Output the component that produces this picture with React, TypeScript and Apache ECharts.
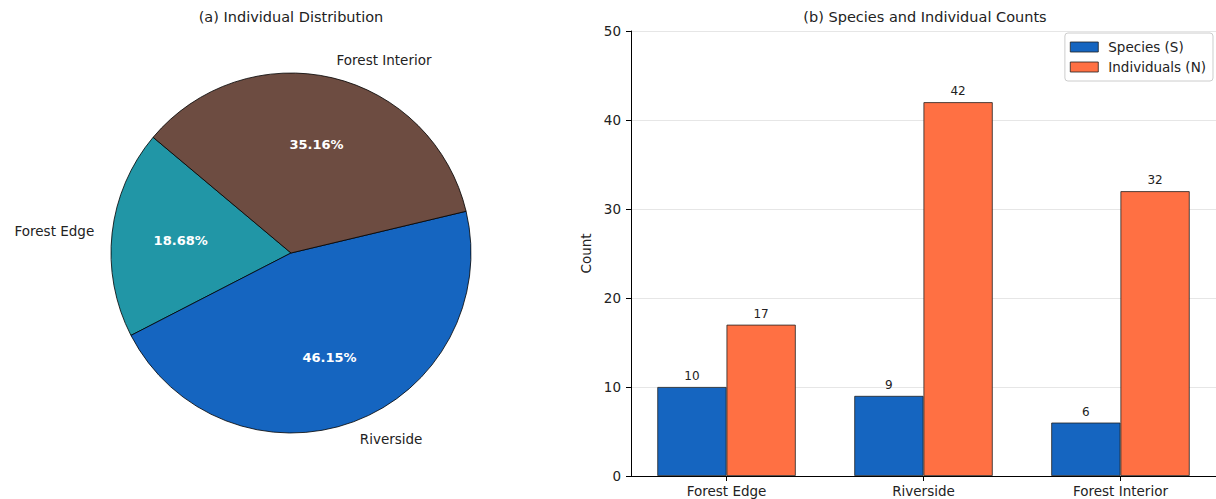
import React, { useEffect, useRef } from "react";
import * as echarts from "echarts";

// Habitat data
const categories = ["Forest Edge", "Riverside", "Forest Interior"];
const speciesCounts = [10, 9, 6];
const individualCounts = [17, 42, 32];
const pieColors = ["#2196A6", "#1565C0", "#6D4C41"];
const seriesNames = ["Species (S)", "Individuals (N)"];
const seriesColors = ["#1565C0", "#FF7043"];
const yTicks = { min: 0, max: 50, interval: 10 };

const FONT = "DejaVu Sans, Verdana, sans-serif";

export default function App() {
  const ref = useRef<HTMLDivElement>(null);

  useEffect(() => {
    if (!ref.current) return;
    const chart = echarts.init(ref.current, null, { renderer: "svg" });

    const total = individualCounts.reduce((a, b) => a + b, 0);
    const pieData = categories.map((name, i) => ({
      name,
      value: individualCounts[i],
      itemStyle: { color: pieColors[i] },
    }));

    const pieCenter = [291, 253];
    const pieR = 180;

    const option: any = {
      animation: false,
      textStyle: { fontFamily: FONT },
      graphic: [
        {
          type: "text",
          x: 291,
          y: 17,
          style: {
            text: "(a) Individual Distribution",
            font: `14.5px ${FONT}`,
            fill: "#222",
            textAlign: "center",
            textVerticalAlign: "middle",
          },
        },
        {
          type: "text",
          x: 925,
          y: 17,
          style: {
            text: "(b) Species and Individual Counts",
            font: `14.5px ${FONT}`,
            fill: "#222",
            textAlign: "center",
            textVerticalAlign: "middle",
          },
        },
      ],
      legend: {
        data: seriesNames,
        orient: "vertical",
        right: 3,
        top: 33,
        icon: "rect",
        itemWidth: 28,
        itemHeight: 10,
        itemGap: 6,
        padding: [7, 7, 7, 5],
        borderColor: "#ccc",
        borderWidth: 1,
        borderRadius: 3,
        backgroundColor: "rgba(255,255,255,0.8)",
        itemStyle: { borderWidth: 0.8, borderColor: "#222" },
        textStyle: { fontSize: 13.5, color: "#222", fontFamily: FONT, padding: [0, 0, 0, 5] },
      },
      grid: { left: 631, top: 31, width: 587.5, height: 445 },
      xAxis: {
        type: "value",
        min: -0.485,
        max: 2.485,
        splitLine: { show: false },
        axisLine: { show: true, onZero: false, lineStyle: { color: "#000", width: 1 } },
        axisTick: {
          show: true,
          length: 5,
          customValues: categories.map((_, i) => i),
          lineStyle: { color: "#000" },
        },
        axisLabel: {
          customValues: categories.map((_, i) => i),
          formatter: (v: number) => categories[Math.round(v)] ?? "",
          fontSize: 13.5,
          color: "#222",
          margin: 8,
          fontFamily: FONT,
        },
      },
      yAxis: {
        type: "value",
        min: yTicks.min,
        max: yTicks.max,
        interval: yTicks.interval,
        name: "Count",
        nameLocation: "middle",
        nameGap: 38,
        nameTextStyle: { fontSize: 13.5, color: "#222", fontFamily: FONT },
        axisLine: { show: true, onZero: false, lineStyle: { color: "#000", width: 1 } },
        axisTick: { show: true, length: 5, lineStyle: { color: "#000" } },
        axisLabel: { fontSize: 13.5, color: "#222", margin: 10, fontFamily: FONT },
        splitLine: { show: true, lineStyle: { color: "#e6e6e6", width: 1 } },
      },
      series: [
        {
          type: "pie",
          center: pieCenter,
          radius: pieR,
          startAngle: 140,
          clockwise: false,
          avoidLabelOverlap: false,
          silent: true,
          data: pieData,
          itemStyle: { borderColor: "#000", borderWidth: 0.8 },
          label: {
            show: true,
            position: "outside",
            formatter: "{b}",
            fontSize: 13.5,
            color: "#222",
            fontFamily: FONT,
            distanceToLabelLine: 0,
          },
          labelLine: { show: false, length: pieR * 0.1, length2: 0 },
          emphasis: { disabled: true },
        },
        {
          // transparent overlay that carries the percentage labels at 0.6 of the radius
          type: "pie",
          center: pieCenter,
          radius: pieR * 1.2,
          startAngle: 140,
          clockwise: false,
          silent: true,
          avoidLabelOverlap: false,
          data: categories.map((name, i) => ({ name, value: individualCounts[i] })),
          itemStyle: { color: "rgba(0,0,0,0)", borderWidth: 0 },
          label: {
            show: true,
            position: "inside",
            formatter: (p: any) => ((p.value / total) * 100).toFixed(2) + "%",
            fontSize: 13,
            fontWeight: "bold",
            color: "#fff",
            fontFamily: FONT,
          },
          labelLine: { show: false },
          emphasis: { disabled: true },
        },
        {
          type: "bar",
          name: seriesNames[0],
          data: categories.map((_, i) => [i, speciesCounts[i]]),
          barWidth: 69.2,
          barGap: "0%",
          itemStyle: { color: seriesColors[0], borderColor: "#222", borderWidth: 0.8 },
          label: { show: true, position: "top", distance: 5, fontSize: 12, color: "#222", fontFamily: FONT },
        },
        {
          type: "bar",
          name: seriesNames[1],
          data: categories.map((_, i) => [i, individualCounts[i]]),
          barWidth: 69.2,
          barGap: "0%",
          itemStyle: { color: seriesColors[1], borderColor: "#222", borderWidth: 0.8 },
          label: { show: true, position: "top", distance: 5, fontSize: 12, color: "#222", fontFamily: FONT },
        },
      ],
    };

    chart.setOption(option);
    return () => chart.dispose();
  }, []);

  return (
    <div
      ref={ref}
      style={{ position: "absolute", left: 0, top: 0, width: 1216, height: 499, background: "#fff" }}
    />
  );
}
